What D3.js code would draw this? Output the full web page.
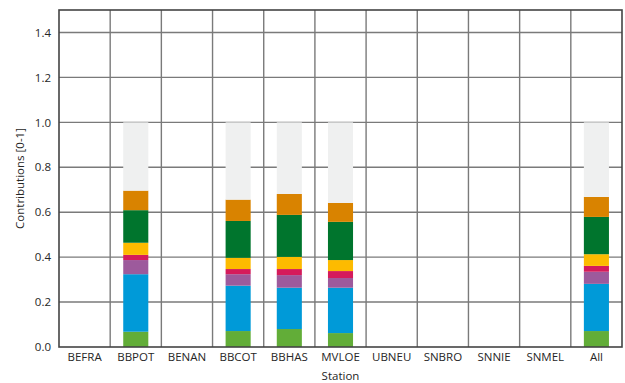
<!DOCTYPE html>
<html>
<head>
<meta charset="utf-8">
<script src="https://cdn.jsdelivr.net/npm/d3@7"></script>
<style>
  body { margin: 0; background: #fff; }
  text { font-family: "Open Sans", sans-serif; fill: #262626; }
</style>
</head>
<body>
<svg id="chart"></svg>
<script>
// Stations along the x axis
const stations = ['BEFRA', 'BBPOT', 'BENAN', 'BBCOT', 'BBHAS', 'MVLOE', 'UBNEU', 'SNBRO', 'SNNIE', 'SNMEL', 'All'];

// Source contributions per station (bottom to top), null = no bar
const lightGreen = [null, 0.068, null, 0.071, 0.080, 0.062, null, null, null, null, 0.071];
const blue       = [null, 0.256, null, 0.202, 0.184, 0.202, null, null, null, null, 0.210];
const purple     = [null, 0.063, null, 0.051, 0.056, 0.043, null, null, null, null, 0.054];
const red        = [null, 0.023, null, 0.023, 0.027, 0.031, null, null, null, null, 0.026];
const yellow     = [null, 0.054, null, 0.050, 0.054, 0.049, null, null, null, null, 0.052];
const green      = [null, 0.145, null, 0.164, 0.187, 0.170, null, null, null, null, 0.166];
const orange     = [null, 0.087, null, 0.095, 0.093, 0.084, null, null, null, null, 0.089];
const rest       = [null, 0.304, null, 0.344, 0.319, 0.359, null, null, null, null, 0.332];

const seriesNames = ['lightGreen', 'blue', 'purple', 'red', 'yellow', 'green', 'orange', 'rest'];
const seriesValues = [lightGreen, blue, purple, red, yellow, green, orange, rest];
const yTicks = [0, 0.2, 0.4, 0.6, 0.8, 1.0, 1.2, 1.4];

const config = {
  width: 625,
  height: 383,
  margin: {top: 10, right: 3, bottom: 36, left: 59}
};

const colors = d3.scaleOrdinal()
    .domain(seriesNames)
    .range(['#62ad38', '#009ad8', '#9d5a9c', '#d51b5b', '#fdbb00', '#00752d', '#d98300', '#eff0f0']);

// Build rows for d3.stack
const table = stations.map((s, i) => {
  const row = {station: s, has: lightGreen[i] !== null};
  seriesNames.forEach((n, j) => row[n] = seriesValues[j][i] || 0);
  return row;
});

const width = config.width - config.margin.left - config.margin.right;
const height = config.height - config.margin.top - config.margin.bottom;

const svg = d3.select('#chart')
    .attr('width', config.width)
    .attr('height', config.height);

const chart = svg.append('g')
    .attr('transform', `translate(${config.margin.left},${config.margin.top})`);

const xScale = d3.scaleBand()
    .domain(stations)
    .range([0, width])
    .paddingInner(0);

const yScale = d3.scaleLinear()
    .domain([0, 1.5])
    .range([height, 0]);

// Horizontal gridlines
chart.append('g')
  .selectAll('line')
  .data(yTicks.filter(d => d > 0))
  .join('line')
    .attr('x1', 0)
    .attr('x2', width)
    .attr('y1', d => yScale(d))
    .attr('y2', d => yScale(d))
    .attr('stroke', '#7a7a7a')
    .attr('stroke-width', 1.4);

// Vertical gridlines between stations
chart.append('g')
  .selectAll('line')
  .data(stations.slice(1))
  .join('line')
    .attr('x1', d => xScale(d))
    .attr('x2', d => xScale(d))
    .attr('y1', 0)
    .attr('y2', height)
    .attr('stroke', '#7a7a7a')
    .attr('stroke-width', 1.4);

// Stacked bars
const stacked = d3.stack().keys(seriesNames)(table);
const barWidth = xScale.bandwidth() * 0.49;

chart.append('g')
  .selectAll('g')
  .data(stacked)
  .join('g')
    .attr('fill', d => colors(d.key))
  .selectAll('rect')
  .data(d => d.filter(p => p.data.has))
  .join('rect')
    .attr('x', d => xScale(d.data.station) + (xScale.bandwidth() - barWidth) / 2)
    .attr('width', barWidth)
    .attr('y', d => yScale(d[1]))
    .attr('height', d => yScale(d[0]) - yScale(d[1]));

// Plot frame
chart.append('rect')
    .attr('width', width)
    .attr('height', height)
    .attr('fill', 'none')
    .attr('stroke', '#444')
    .attr('stroke-width', 1.6);

// Axes
const yAxis = d3.axisLeft(yScale)
    .tickValues(yTicks)
    .tickSize(0)
    .tickPadding(8)
    .tickFormat(d3.format('.1f'));

const xAxis = d3.axisBottom(xScale)
    .tickSize(0)
    .tickPadding(6);

const yAxisG = chart.append('g').call(yAxis);
const xAxisG = chart.append('g')
    .attr('transform', `translate(0,${height})`)
    .call(xAxis);

[yAxisG, xAxisG].forEach(g => {
  g.select('.domain').remove();
  g.selectAll('text').attr('font-size', 11.5).attr('fill', '#262626');
});

// Axis titles
svg.append('text')
    .attr('x', config.margin.left + width / 2)
    .attr('y', 380)
    .attr('text-anchor', 'middle')
    .attr('font-size', 11.5)
    .text('Station');

svg.append('text')
    .attr('transform', `translate(24,${config.margin.top + height / 2}) rotate(-90)`)
    .attr('text-anchor', 'middle')
    .attr('font-size', 11.5)
    .text('Contributions [0-1]');
</script>
</body>
</html>
